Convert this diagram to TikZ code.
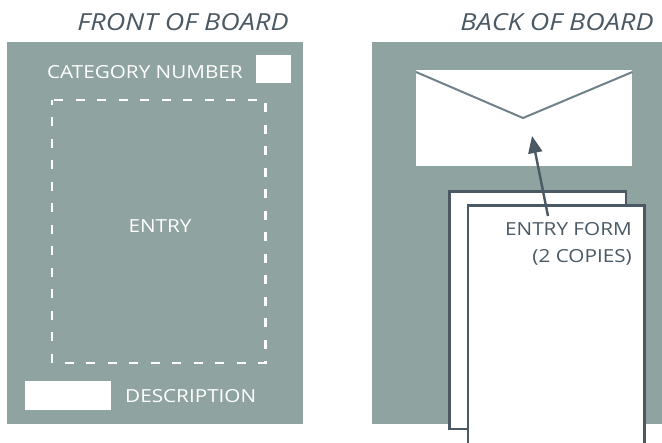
\documentclass[tikz,border=0pt]{standalone}
\usepackage{fontspec}
\setmainfont{Open Sans}[FakeStretch=1.15]
\usetikzlibrary{arrows.meta,calc}
\definecolor{board}{HTML}{8FA3A0}
\definecolor{ink}{HTML}{4A5963}
\definecolor{flap}{HTML}{6F8289}
\begin{document}
\begin{tikzpicture}[x=1pt,y=-1pt,
  boardbox/.style={fill=board,draw=none,inner sep=0pt,anchor=north west},
  whitebox/.style={fill=white,draw=none,inner sep=0pt,anchor=north west},
  lbl/.style={text=white,font=\fontsize{18}{20}\selectfont,inner sep=0pt},
  titlelbl/.style={text=ink,font=\fontsize{23.5}{26}\selectfont\itshape,inner sep=0pt},
  formlbl/.style={text=ink,font=\fontsize{18}{27}\selectfont,inner sep=0pt,align=right,anchor=north east},
  paper/.style={fill=white,draw=ink,line width=2.2pt},
  dashbox/.style={draw=white,line width=2.6pt,dash pattern=on 9pt off 12.5pt,dash phase=4pt}]
\useasboundingbox (0,0) rectangle (662,443);
\fill[white] (0,0) rectangle (662,443);
% front board
\node[boardbox,minimum width=296pt,minimum height=382pt] (front) at (7,42) {};
\node[titlelbl] (ftitle) at (183,22) {FRONT OF BOARD};
\node[whitebox,minimum width=35pt,minimum height=28pt] (catbox) at (256,55) {};
\node[lbl,anchor=east] (catlbl) at (243,72) {CATEGORY NUMBER};
\coordinate (dtl) at (52,100);
\coordinate (dbr) at (265.5,363);
\draw[dashbox] (dtl) rectangle (dbr);
\node[lbl] (entry) at (160,226) {ENTRY};
\node[whitebox,minimum width=86pt,minimum height=29pt] (descbox) at (25,381) {};
\node[lbl,anchor=west] (desclbl) at (125,396) {DESCRIPTION};
% back board
\node[boardbox,minimum width=290pt,minimum height=382pt] (back) at (372,42) {};
\node[titlelbl] (btitle) at (557,22) {BACK OF BOARD};
\node[whitebox,minimum width=216pt,minimum height=96pt] (env) at (416,70) {};
\coordinate (vtip) at (523,118);
\draw[flap,line width=2pt] ($(env.north west)+(0,2)$) -- (vtip) -- ($(env.north east)+(0,2)$);
% forms
\coordinate (p1a) at (449.5,191.5);
\coordinate (p1b) at (626,429);
\draw[paper] (p1a) rectangle (p1b);
\coordinate (p2a) at (468,205.5);
\coordinate (p2b) at (644.5,447);
\draw[paper] (p2a) rectangle (p2b);
\node[formlbl] (formlbl) at (632,222) {ENTRY FORM\\(2 COPIES)};
\coordinate (atail) at (548,216);
\coordinate (ahead) at (532,136);
\draw[ink,line width=2.4pt,-{Triangle[length=17pt,width=14pt]}] (atail) -- (ahead);
\end{tikzpicture}
\end{document}
